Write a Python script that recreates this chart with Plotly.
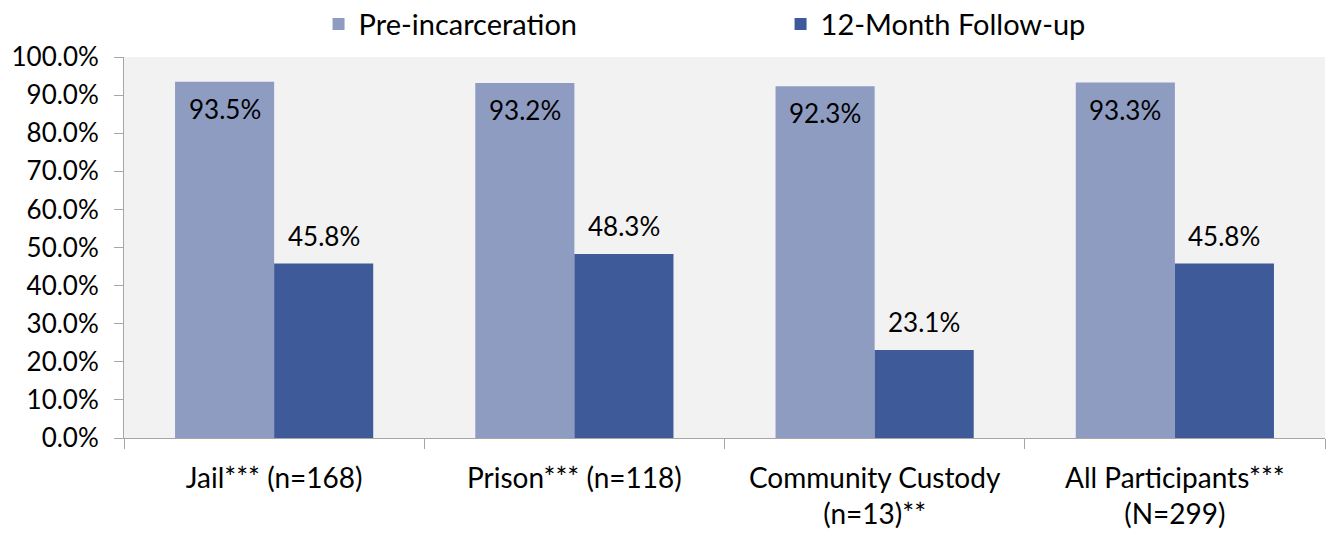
import plotly.graph_objects as go

categories = ["Jail*** (n=168)", "Prison*** (n=118)", "Community Custody<br>(n=13)**", "All Participants***<br>(N=299)"]
pre_vals = [0.935, 0.932, 0.923, 0.933]
follow_vals = [0.458, 0.483, 0.231, 0.458]
series_names = ["Pre-incarceration", "12-Month Follow-up"]

FONT = "Lato"
xpos = list(range(len(categories)))
BAR_HALF_PX = 49.5  # half of one bar width in pixels (style)

fig = go.Figure()
fig.add_trace(go.Bar(
    x=xpos, y=pre_vals, name=series_names[0],
    marker=dict(color="#8f9cc2", line=dict(width=0)),
    hoverinfo="y",
))
fig.add_trace(go.Bar(
    x=xpos, y=follow_vals, name=series_names[1],
    marker=dict(color="#3f5a98", line=dict(width=0)),
    hoverinfo="y",
))
# invisible trace to carry the boundary tick axis
fig.add_trace(go.Scatter(x=[-0.5, 3.5], y=[0, 0], xaxis="x2", mode="markers",
                         marker=dict(opacity=0), showlegend=False, hoverinfo="skip"))

annotations = []
for i, v in zip(xpos, pre_vals):
    annotations.append(dict(x=i, y=v, xref="x", yref="y", text=f"{v*100:.1f}%",
                            showarrow=False, xshift=-BAR_HALF_PX, yshift=-27,
                            yanchor="middle", font=dict(size=26, family=FONT, color="black")))
for i, v in zip(xpos, follow_vals):
    annotations.append(dict(x=i, y=v, xref="x", yref="y", text=f"{v*100:.1f}%",
                            showarrow=False, xshift=BAR_HALF_PX, yshift=28,
                            yanchor="middle", font=dict(size=26, family=FONT, color="black")))

fig.update_layout(
    width=1327, height=538,
    margin=dict(l=124, r=2, t=57, b=100, autoexpand=False),
    paper_bgcolor="white", plot_bgcolor="#f2f2f2",
    barmode="group", bargap=0.34, bargroupgap=0,
    font=dict(family=FONT, size=26, color="black"),
    annotations=annotations,
    legend=dict(orientation="h", x=0.162, xanchor="left",
                yref="container", y=0.955, yanchor="middle",
                font=dict(size=29, family=FONT), entrywidth=417,
                bgcolor="rgba(0,0,0,0)"),
    xaxis=dict(range=[-0.5, 3.5], tickvals=xpos, ticktext=categories, ticks="",
               showline=True, linecolor="#a6a6a6", linewidth=1, showgrid=False,
               zeroline=False, tickfont=dict(size=28, family=FONT), ticklabelstandoff=15),
    xaxis2=dict(range=[-0.5, 3.5], overlaying="x", side="bottom",
                tickvals=[-0.5, 0.5, 1.5, 2.5, 3.5], ticks="outside", ticklen=10,
                tickcolor="#a6a6a6", showticklabels=False, showgrid=False, zeroline=False),
    yaxis=dict(range=[0, 1.0], tickvals=[i/10 for i in range(11)],
               ticktext=[f"{i*10:.1f}%" for i in range(11)],
               ticks="outside", ticklen=9, tickcolor="#a6a6a6",
               showline=True, linecolor="#a6a6a6", linewidth=1, ticklabelstandoff=10,
               showgrid=False, zeroline=False, tickfont=dict(size=26, family=FONT)),
)

fig.write_html("out.html")
